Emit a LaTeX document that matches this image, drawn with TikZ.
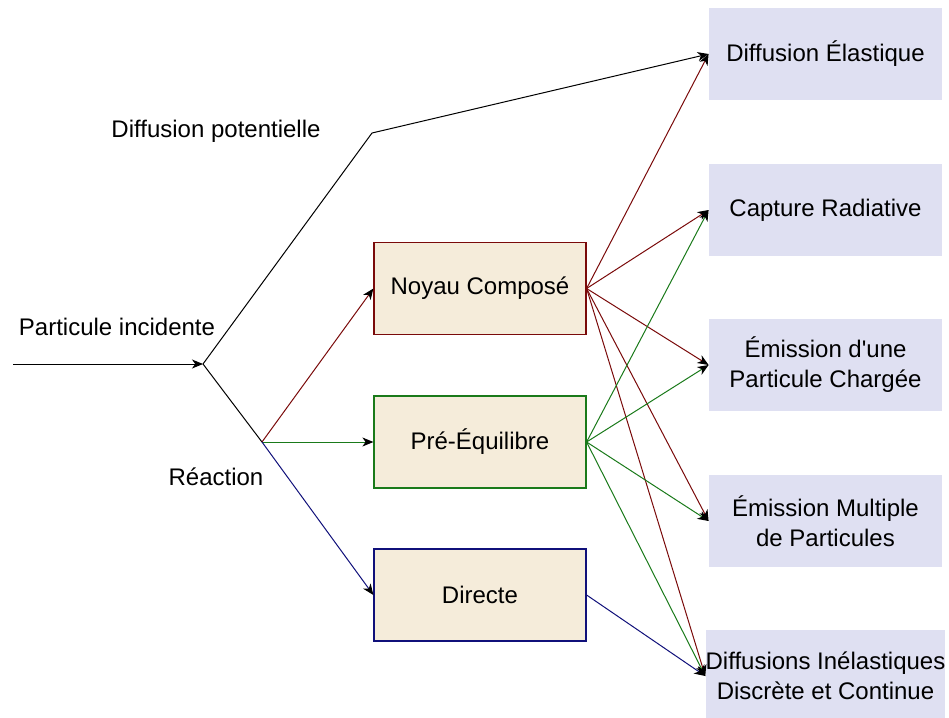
\documentclass[tikz,border=0pt]{standalone}
\usepackage{fontspec}
\setmainfont{Liberation Sans}
\usepackage{xcolor}
\usetikzlibrary{arrows.meta}
\definecolor{redPath}{HTML}{7A0A0A}
\definecolor{greenPath}{HTML}{1A7A1A}
\definecolor{bluePath}{HTML}{10107A}
\definecolor{stageFill}{HTML}{F5ECDA}
\definecolor{outFill}{HTML}{DFE0F2}
\tikzset{
  lab/.style={font=\fontsize{12}{15}\selectfont, text=black},
  stageBox/.style={draw=#1, fill=stageFill, line width=0.6pt, minimum width=106pt, minimum height=46pt, inner sep=0pt, lab},
  outBox/.style={fill=outFill, minimum width=116.5pt, minimum height=46pt, inner sep=0pt, align=center, lab},
  plainLine/.style={draw=black, line width=0.5pt},
  flow/.style={draw=#1, line width=0.5pt, -{Stealth[color=black, length=5.5pt, width=4.5pt, inset=1.6pt]}}
}

\begin{document}
\begin{tikzpicture}[x=0.5pt,y=-0.5pt]
\useasboundingbox (0,0) rectangle (949,718);

% branch points
\coordinate (start) at (13,364);
\coordinate (split) at (203,364);
\coordinate (bend) at (372,133);
\coordinate (react) at (262,442);

% stages
\node[stageBox=redPath] (compound) at (480,288.5) {Noyau Composé};
\node[stageBox=greenPath] (preeq) at (480,442) {Pré-Équilibre};
\node[stageBox=bluePath] (direct) at (480,595) {Directe};

% outcomes
\node[outBox] (elastic) at (825.5,54) {Diffusion Élastique};
\node[outBox] (capture) at (825.5,210) {Capture Radiative};
\node[outBox] (charged) at (825.5,365) {Émission d\textquotesingle une\\Particule Chargée};
\node[outBox] (multiple) at (825.5,521) {Émission Multiple\\de Particules};
\node[outBox] (inelastic) at (825.5,676) {Diffusions Inélastiques\\Discrète et Continue};

% labels
\node[lab] (potLab) at (216,131) {Diffusion potentielle};
\node[lab] (incLab) at (117,327) {Particule incidente};
\node[lab] (reacLab) at (216,477) {Réaction};

% incoming particle
\draw[flow=black] (start) -- (split);
\draw[plainLine] (split) -- (bend);
\draw[flow=black] (bend) -- (elastic.west);
\draw[plainLine] (split) -- (react);

% reaction mechanisms
\draw[flow=redPath] (react) -- (compound.west);
\draw[flow=greenPath] (react) -- (preeq.west);
\draw[flow=bluePath] (react) -- (direct.west);

% exit channels
\foreach \t in {elastic,capture,charged,multiple,inelastic}
  \draw[flow=redPath] (compound.east) -- (\t.west);
\foreach \t in {capture,charged,multiple,inelastic}
  \draw[flow=greenPath] (preeq.east) -- (\t.west);
\draw[flow=bluePath] (direct.east) -- (inelastic.west);
\end{tikzpicture}
\end{document}
